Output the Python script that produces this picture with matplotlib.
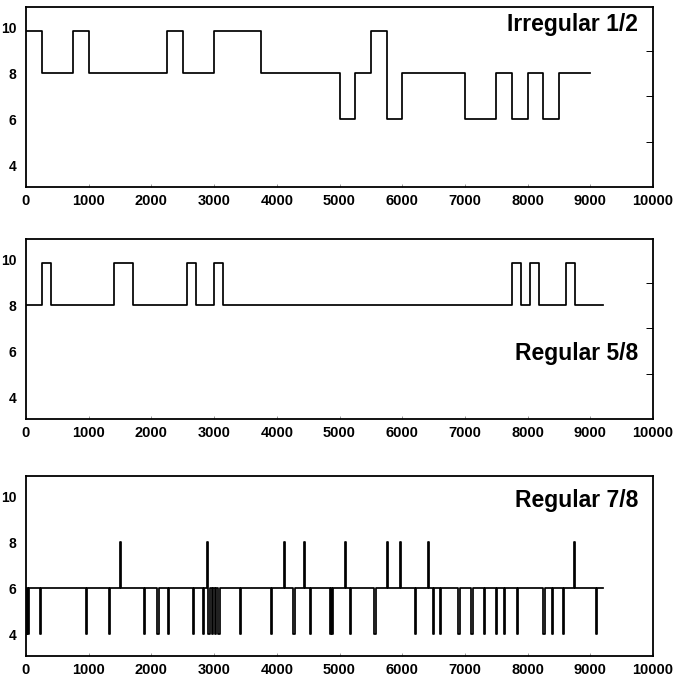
import matplotlib
matplotlib.use('Agg')
import matplotlib.pyplot as plt
from matplotlib.ticker import FixedLocator

plt.rcParams['font.family'] = ['Liberation Sans', 'DejaVu Sans']
plt.rcParams['font.weight'] = 'bold'

H = 9.85  # the "high" level sits a bit under 10 in the original

# panel 1 - Irregular 1/2 : change times and levels (step, post)
t1 = [0, 250, 750, 1000, 2250, 2500, 3000, 3750, 5000, 5250, 5500,
      5750, 6000, 7000, 7500, 7750, 8000, 8250, 8500, 9000]
lv1 = [H, 8, H, 8, H, 8, H, 8, 6, 8, H, 6, 8, 6, 8, 6, 8, 6, 8, 8]

# panel 2 - Regular 5/8
t2 = [0, 260, 400, 1410, 1705, 2570, 2710, 2995, 3145, 7755, 7900,
      8040, 8185, 8615, 8760, 9200]
lv2 = [8, H, 8, H, 8, H, 8, H, 8, H, 8, H, 8, H, 8, 8]

# panel 3 - Regular 7/8 : baseline 6 with short pulses
base3 = 6
end3 = 9200
down_t = [0, 35, 220, 950, 1325, 1880, 2095, 2262, 2660, 2825, 2910,
          2965, 3015, 3070, 3413, 3910, 4263, 4532, 4845, 4875, 5160,
          5558, 6207, 6494, 6603, 6895, 7105, 7307, 7490, 7622, 7826,
          8251, 8384, 8562, 9083]
up_t = [1497, 2882, 4110, 4437, 5082, 5752, 5965, 6414, 8742]
down_lv = 4
up_lv = 8
pulse = 20

titles = ['Irregular 1/2', 'Regular 5/8', 'Regular 7/8']


def pulses_to_steps():
    ev = sorted([(t, down_lv) for t in down_t] + [(t, up_lv) for t in up_t])
    xs, ys = [0], [base3]
    for t, v in ev:
        xs += [t, t + pulse]
        ys += [v, base3]
    xs.append(end3)
    ys.append(base3)
    return xs, ys


fig = plt.figure(figsize=(6.74, 6.79), dpi=100)
left, width = 26 / 674, 627 / 674
tops = [7, 239, 476]
h = 180

t3, lv3 = pulses_to_steps()
series = [(t1, lv1), (t2, lv2), (t3, lv3)]
text_y = [10.15, 5.9, 9.85]

for i, (tt, vv) in enumerate(series):
    ax = fig.add_axes([left, 1 - (tops[i] + h) / 679, width, h / 679])
    ax.step(tt, vv, where='post', color='black', lw=1.25)
    ax.set_xlim(0, 10000)
    ax.set_ylim(3.05, 10.9)
    ax.set_xticks(range(0, 10001, 1000))
    ax.set_yticks([4, 6, 8, 10])
    ax.tick_params(axis='y', which='major', left=False, labelsize=10, pad=3.5)
    ax.tick_params(axis='x', direction='in', length=2, width=0.6,
                   color='#888888', labelsize=10.5, pad=5)
    if i < 2:
        ax.yaxis.set_minor_locator(FixedLocator([4, 5, 7, 9]))
        ax.tick_params(axis='y', which='minor', left=False, right=True,
                       direction='in', length=5, width=0.7)
    for s in ax.spines.values():
        s.set_linewidth(1.3)
    for lab in ax.get_xticklabels() + ax.get_yticklabels():
        lab.set_fontweight('bold')
    ax.text(0.976, text_y[i], titles[i], transform=ax.get_yaxis_transform(),
            ha='right', va='center', fontsize=16.5, fontweight='bold')

fig.savefig('out.png', dpi=100)
